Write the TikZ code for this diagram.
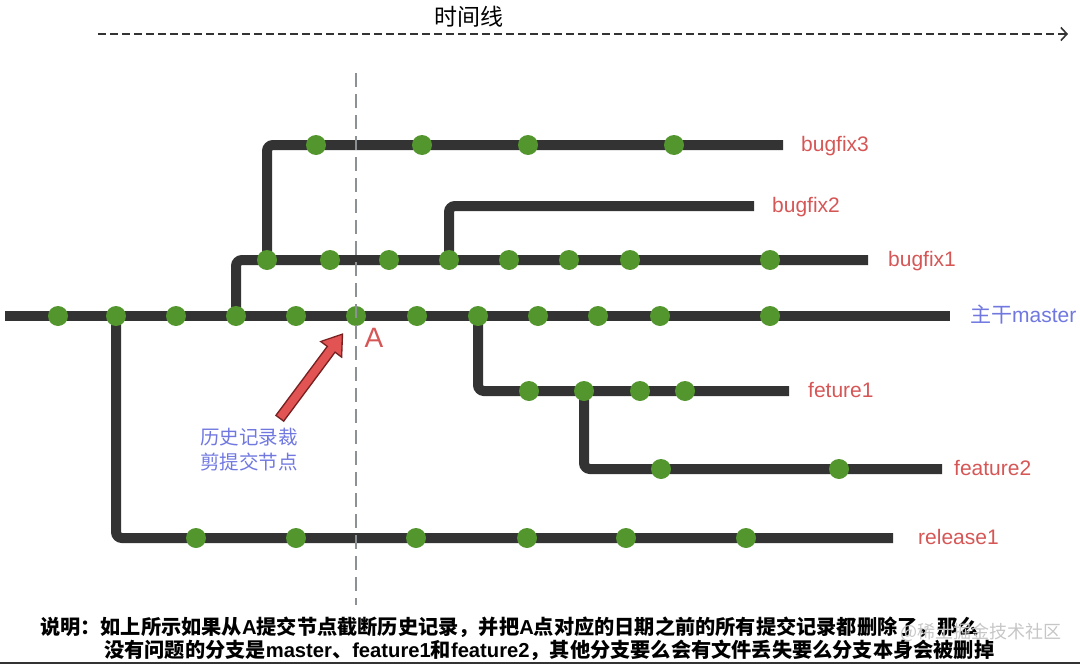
\documentclass[tikz,border=0pt]{standalone}
\usepackage{fontspec}
\setmainfont{Liberation Sans}
\newfontfamily\cjk{Noto Sans CJK SC}
\usetikzlibrary{positioning,arrows.meta,backgrounds}
\definecolor{branchgray}{RGB}{51,51,51}
\definecolor{commitgreen}{RGB}{82,150,45}
\definecolor{tagred}{RGB}{214,86,86}
\definecolor{noteblue}{RGB}{112,120,224}
\definecolor{cutgray}{RGB}{140,145,150}
\definecolor{arrowred}{RGB}{226,84,84}
\definecolor{arrowedge}{RGB}{120,32,32}
\begin{document}
\begin{tikzpicture}[x=1pt,y=-1pt,
	branch/.style={line width=10pt,draw=branchgray,rounded corners=6pt},
	commit/.style={circle,fill=commitgreen,minimum size=20pt,inner sep=0pt},
	tag/.style={inner sep=0pt,text height=14pt,text depth=1pt,text=tagred,font=\fontsize{21}{25}\selectfont},
	note/.style={align=center,text=noteblue,inner sep=0pt,font=\cjk\fontsize{19.5}{25}\selectfont},
	remark/.style={anchor=west,inner sep=0pt,text height=15pt,text depth=4pt,font=\bfseries\fontsize{20.2}{23}\selectfont}]
	\useasboundingbox (0,0) rectangle (1080,664);
	%Truc thoi gian
	\coordinate (t0) at (98,34);
	\coordinate (t1) at (1068,34);
	\draw[branchgray,line width=1.6pt,dash pattern=on 8pt off 4pt,-{Straight Barb[length=6pt,width=13pt]}] (t0) -- (t1);
	\node[font=\cjk\fontsize{23}{26}\selectfont] (tlabel) at (469,17) {时间线};
	%Commit master
	\foreach \x [count=\i] in {58,116,176,236,296,356,417,478,538,598,660,770}
		\node[commit] (m\i) at (\x,316) {};
	%Commit bugfix1
	\foreach \x [count=\i] in {267,330,389,449,509,569,630,770}
		\node[commit] (b\i) at (\x,260) {};
	%Commit bugfix3
	\foreach \x [count=\i] in {316,422,528,674}
		\node[commit] (c\i) at (\x,145) {};
	%Commit feture1
	\foreach \x [count=\i] in {529,584,640,685}
		\node[commit] (f\i) at (\x,391) {};
	%Commit feature2
	\foreach \x [count=\i] in {661,839}
		\node[commit] (g\i) at (\x,469) {};
	%Commit release1
	\foreach \x [count=\i] in {196,296,416,527,626,746}
		\node[commit] (r\i) at (\x,538) {};
	%Dau cuoi cac nhanh
	\coordinate (m-start) at (5,316);
	\coordinate (m-end) at (950,316);
	\coordinate (b-end) at (868,260);
	\coordinate (c-end) at (783,145);
	\coordinate (d-end) at (754,206);
	\coordinate (f-end) at (789,391);
	\coordinate (g-end) at (942,469);
	\coordinate (r-end) at (893,538);
	%Cac nhanh
	\begin{scope}[on background layer]
		\draw[branch] (m-start) -- (m-end);
		\draw[branch] (m2.center) |- (r-end);
		\draw[branch] (m4.center) |- (b-end);
		\draw[branch] (b1.center) |- (c-end);
		\draw[branch] (b4.center) |- (d-end);
		\draw[branch] (m8.center) |- (f-end);
		\draw[branch] (f2.center) |- (g-end);
	\end{scope}
	%Ten nhanh
	\node[tag,right=18pt of c-end] (lc) {bugfix3};
	\node[tag,right=18pt of d-end] (ld) {bugfix2};
	\node[tag,right=20pt of b-end] (lb) {bugfix1};
	\node[tag,text=noteblue,right=20pt of m-end] (lm) {{\cjk 主干}master};
	\node[tag,right=19pt of f-end] (lf) {feture1};
	\node[tag,right=12pt of g-end] (lg) {feature2};
	\node[tag,right=25pt of r-end] (lr) {release1};
	%Diem A
	\node[inner sep=0pt,text=tagred,font=\fontsize{28}{30}\selectfont] (alabel) at (374,338) {A};
	%Mui ten ghi chu
	\node[note] (note) at (249,450) {历史记录裁\\剪提交节点};
	\coordinate (tail) at (280,418);
	\draw[arrowedge,line width=11pt,shorten <=-1pt,shorten >=11pt,-{Triangle[length=21pt,width=27pt]}] (tail) -- (m6);
	\draw[arrowred,line width=8pt,shorten <=0.5pt,shorten >=13.5pt,-{Triangle[length=17pt,width=22pt]}] (tail) -- (m6);
	%Duong cat
	\draw[cutgray,line width=2.5pt,dash pattern=on 14pt off 7pt] (m6 |- 0,73) -- (m6 |- 0,605);
	%Ghi chu duoi
	\node[remark] (rem1) at (40,629) {{\cjk 说明：如上所示如果从}A{\cjk 提交节点截断历史记录，并把}A{\cjk 点对应的日期之前的所有提交记录都删除了，那么}};
	\node[remark] (rem2) at (104,652) {{\cjk 没有问题的分支是}master{\cjk 、}feature1{\cjk 和}feature2{\cjk ，其他分支要么会有文件丢失要么分支本身会被删掉}};
	\node[anchor=west,inner sep=0pt,text=gray!45,font=\cjk\fontsize{18}{20}\selectfont] (mark) at (900,632) {@稀土掘金技术社区};
	\fill[branchgray] (0,662) rectangle (1080,664);
\end{tikzpicture}
\end{document}
